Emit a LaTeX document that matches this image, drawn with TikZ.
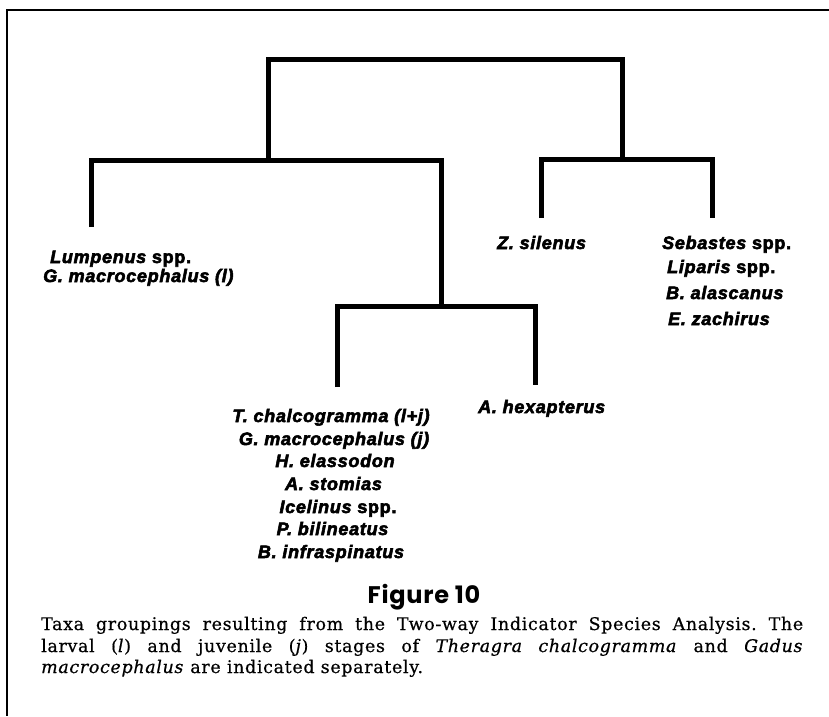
\documentclass[tikz,border=0pt]{standalone}
\usepackage{fontspec}
\newfontfamily\taxfont{Liberation Sans}[LetterSpace=4,BoldFeatures={FakeBold=3},BoldItalicFeatures={FakeBold=3}]
\newfontfamily\capfont{DejaVu Serif}[LetterSpace=4,FakeBold=0.6]
\newfontfamily\figfont{Poppins}[LetterSpace=3]
\newcommand\taxit[1]{{\itshape #1}}
\frenchspacing
\begin{document}
\begin{tikzpicture}[x=1pt,y=-1pt,
  tree/.style={line width=5pt},
  frame/.style={line width=2pt},
  taxw/.style={inner sep=0pt,anchor=base west,font=\taxfont\bfseries\fontsize{18}{21}\selectfont},
  taxc/.style={inner sep=0pt,anchor=base,font=\taxfont\bfseries\fontsize{18}{21}\selectfont},
  capline/.style={inner sep=0pt,anchor=base west,font=\capfont\fontsize{17.4}{21}\selectfont}]
\useasboundingbox (0,0) rectangle (829,716);
% frame
\coordinate (fc) at (7,10);
\coordinate (fr) at (829,10);
\coordinate (fb) at (7,716);
\draw[frame] (fr) -- (fc) -- (fb);
% tree coordinates
\coordinate (top) at (445,59);
\coordinate (L) at (268,160);
\coordinate (R) at (622,159);
\coordinate (M) at (441,306);
\coordinate (lump) at (91,227);
\coordinate (mid1) at (337,387);
\coordinate (mid2) at (535,385);
\coordinate (zs) at (541,218);
\coordinate (seb) at (712,218);
\draw[tree] (L) |- (top) -| (R);
\draw[tree] (lump) |- (L) -| (M);
\draw[tree] (mid1) |- (M) -| (mid2);
\draw[tree] (zs) |- (R) -| (seb);
% labels
\node[taxw] (t-lump) at (50,263) {\taxit{Lumpenus} spp.};
\node[taxw] (t-gmacl) at (43,282) {\taxit{G. macrocephalus (l)}};
\node[taxw] (t-zsil) at (497,249) {\taxit{Z. silenus}};
\node[taxw] (t-seb) at (662,249) {\taxit{Sebastes} spp.};
\node[taxw] (t-lip) at (667,273) {\taxit{Liparis} spp.};
\node[taxw] (t-bal) at (666,299) {\taxit{B. alascanus}};
\node[taxw] (t-eza) at (668,325) {\taxit{E. zachirus}};
\node[taxw] (t-ahex) at (478,413) {\taxit{A. hexapterus}};
\node[taxc] (t-tch) at (331,422) {\taxit{T. chalcogramma (l+j)}};
\node[taxc] (t-gmacj) at (334,445) {\taxit{G. macrocephalus (j)}};
\node[taxc] (t-hel) at (335,467) {\taxit{H. elassodon}};
\node[taxc] (t-ast) at (333.5,490) {\taxit{A. stomias}};
\node[taxc] (t-ice) at (338,513) {\taxit{Icelinus} spp.};
\node[taxc] (t-pbi) at (332.5,535) {\taxit{P. bilineatus}};
\node[taxc] (t-bin) at (331,558) {\taxit{B. infraspinatus}};
% caption
\node[inner sep=0pt,anchor=base,font=\figfont\bfseries\fontsize{24}{28}\selectfont] (fig) at (424,603) {Figure 10};
\node[capline] (c1) at (41,630) {\makebox[762pt][s]{Taxa groupings resulting from the Two-way Indicator Species Analysis. The}};
\node[capline] (c2) at (41,652) {\makebox[762pt][s]{larval (\textit{l}) and juvenile (\textit{j}) stages of \textit{Theragra chalcogramma} and \textit{Gadus}}};
\node[capline] (c3) at (41,673) {\textit{macrocephalus} are indicated separately.};
\end{tikzpicture}
\end{document}
